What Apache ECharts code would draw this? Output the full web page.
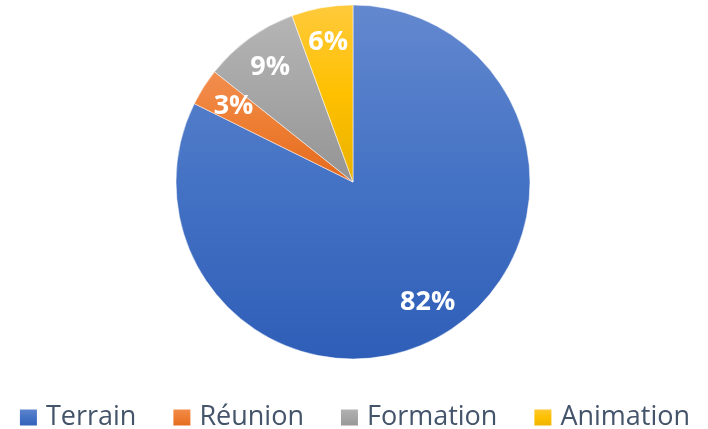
<!DOCTYPE html>
<html>
<head>
<meta charset="utf-8">
<script src="https://cdn.jsdelivr.net/npm/echarts@6/dist/echarts.min.js"></script>
<style>
  html, body { margin: 0; padding: 0; background: #fff; }
  #chart { width: 708px; height: 429px; }
</style>
</head>
<body>
<div id="chart"></div>
<script>
// data (share in percent)
const categories = ['Terrain', 'Réunion', 'Formation', 'Animation']
const shares = [82.3, 3.4, 8.7, 5.6]
// top / middle / bottom colours of each slice gradient
const sliceColors = [
    ['#6388cf', '#4472c4', '#2f5eb8'],
    ['#f28e50', '#ed7d31', '#e3691c'],
    ['#b5b5b5', '#a5a5a5', '#949494'],
    ['#ffca3c', '#ffc000', '#e9b100']
]

function grad(c) {
    return new echarts.graphic.LinearGradient(0, 0, 0, 1, [
        { offset: 0, color: c[0] },
        { offset: 0.5, color: c[1] },
        { offset: 1, color: c[2] }
    ])
}

let myChart = echarts.init(document.getElementById('chart'))
let pieData = categories.map((name, i) => ({
    name: name,
    value: shares[i],
    itemStyle: { color: grad(sliceColors[i]) }
}))
let labelData = categories.map((name, i) => ({ name: name, value: shares[i] }))

myChart.setOption({
    animation: false,
    legend: {
        data: categories,
        left: 'center',
        top: 399,
        icon: 'rect',
        itemWidth: 19,
        itemHeight: 18,
        itemGap: 35,
        textStyle: {
            fontFamily: 'Open Sans',
            fontSize: 27,
            color: '#44546a',
            padding: [0, 0, 0, 3]
        }
    },
    series: [{
        type: 'pie',
        center: [353, 182],
        radius: 177,
        startAngle: 90,
        clockwise: true,
        label: { show: false },
        labelLine: { show: false },
        itemStyle: { borderColor: '#ffffff', borderWidth: 0.5 },
        data: pieData
    }, {
        // transparent ring, only to place the percent labels near the rim
        type: 'pie',
        center: [353, 182],
        radius: [100, 177],
        startAngle: 90,
        clockwise: true,
        silent: true,
        legendHoverLink: false,
        itemStyle: { color: 'rgba(0,0,0,0)' },
        label: {
            show: true,
            position: 'inside',
            color: '#ffffff',
            fontFamily: 'Open Sans',
            fontWeight: 'bold',
            fontSize: 27,
            formatter: p => Math.round(p.percent) + '%'
        },
        labelLine: { show: false },
        data: labelData
    }]
})
</script>
</body>
</html>
